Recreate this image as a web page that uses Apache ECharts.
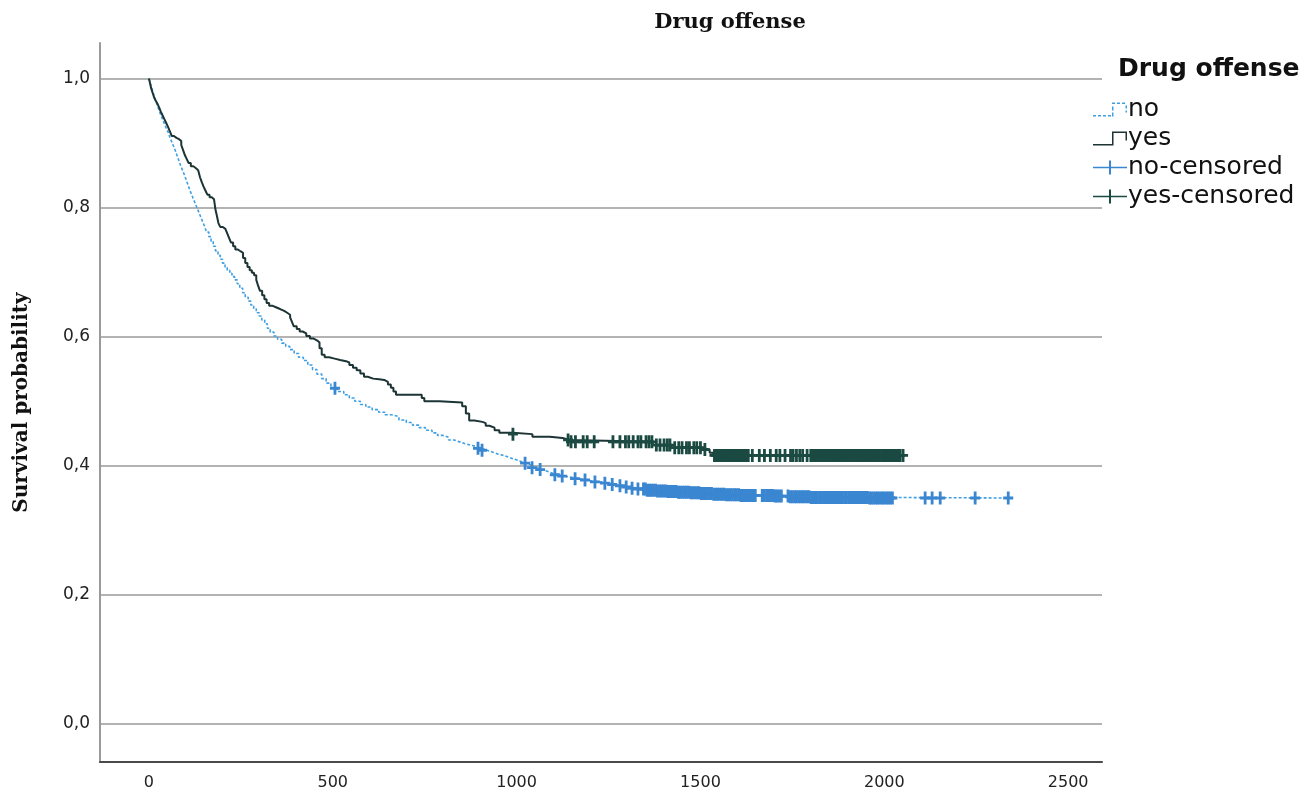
<!DOCTYPE html>
<html><head><meta charset="utf-8">
<script src="https://cdn.jsdelivr.net/npm/echarts@6/dist/echarts.min.js"></script>
<style>html,body{margin:0;padding:0;background:#fff}#c{width:1312px;height:791px}</style>
</head><body><div id="c"></div>
<script>
// ---- data ----
const xTicks = [0, 500, 1000, 1500, 2000, 2500];
const yTicks = [0, 0.2, 0.4, 0.6, 0.8, 1.0];

// "no" group: event times (days) and survival after each step
const noTimes = [0,4,8,12,16,20,24,28,32,37,42,47,52,57,62,67,72,77,82,87,92,97,102,107,112,117,122,127,132,137,142,147,152,157,163,169,175,181,188,194,200,207,213,220,226,233,240,247,255,262,270,277,285,292,300,307,315,322,330,340,350,361,372,383,395,407,420,432,445,457,470,482,495,512,530,545,560,575,590,607,625,642,660,680,700,717,735,752,770,785,800,815,830,845,860,875,890,905,920,935,950,965,980,995,1010,1025,1040,1055,1070,1085,1100,1115,1130,1150,1170,1190,1210,1230,1250,1270,1290,1310,1330,1355,1380,1410,1440,1470,1500,1535,1570,1610,1650,1700,1740,1800,1850,1960,2342];
const noSurv  = [1.0,0.992,0.985,0.977,0.970,0.963,0.957,0.950,0.944,0.937,0.930,0.923,0.917,0.909,0.902,0.895,0.888,0.880,0.872,0.864,0.857,0.850,0.842,0.834,0.826,0.819,0.812,0.805,0.798,0.791,0.784,0.777,0.770,0.762,0.755,0.748,0.740,0.733,0.726,0.720,0.714,0.708,0.703,0.698,0.693,0.688,0.682,0.675,0.668,0.661,0.655,0.649,0.643,0.637,0.632,0.626,0.620,0.613,0.607,0.601,0.596,0.590,0.585,0.580,0.574,0.568,0.563,0.556,0.549,0.542,0.535,0.528,0.520,0.515,0.510,0.505,0.500,0.495,0.491,0.487,0.483,0.479,0.476,0.471,0.467,0.463,0.459,0.455,0.451,0.447,0.444,0.440,0.437,0.434,0.432,0.430,0.427,0.424,0.421,0.418,0.416,0.413,0.410,0.407,0.404,0.401,0.397,0.394,0.391,0.388,0.386,0.384,0.382,0.380,0.378,0.376,0.375,0.373,0.371,0.369,0.367,0.365,0.364,0.362,0.361,0.360,0.359,0.358,0.357,0.356,0.355,0.354,0.354,0.353,0.352,0.351,0.351,0.350,0.350];

// "yes" group
const yesTimes = [0,3,6,10,14,19,24,28,32,37,42,47,52,57,62,68,75,82,88,93,98,103,108,114,121,128,134,139,144,149,154,159,165,171,177,181,185,189,194,201,208,213,218,223,229,235,242,250,256,262,268,274,280,286,292,297,302,308,314,320,327,335,344,352,360,368,376,384,389,394,402,410,418,428,438,448,458,464,470,478,490,505,520,536,545,555,565,575,585,595,610,626,640,650,658,665,672,735,742,749,790,852,862,871,885,907,916,926,940,953,990,1043,1090,1125,1144,1370,1420,1506,1525,1535,2055];
const yesSurv  = [1.0,0.993,0.985,0.978,0.971,0.965,0.960,0.955,0.949,0.943,0.937,0.931,0.925,0.918,0.911,0.908,0.906,0.903,0.897,0.889,0.881,0.875,0.869,0.864,0.861,0.858,0.855,0.847,0.839,0.832,0.826,0.820,0.816,0.813,0.810,0.797,0.787,0.776,0.770,0.767,0.764,0.760,0.753,0.746,0.740,0.735,0.732,0.730,0.722,0.714,0.708,0.703,0.699,0.695,0.688,0.679,0.671,0.664,0.658,0.652,0.648,0.646,0.644,0.642,0.640,0.637,0.634,0.630,0.623,0.616,0.612,0.608,0.605,0.601,0.597,0.594,0.591,0.582,0.572,0.568,0.566,0.564,0.562,0.560,0.556,0.552,0.548,0.543,0.538,0.535,0.534,0.533,0.530,0.526,0.521,0.515,0.510,0.510,0.505,0.500,0.498,0.492,0.481,0.470,0.468,0.466,0.462,0.459,0.455,0.451,0.449,0.445,0.443,0.440,0.437,0.432,0.428,0.425,0.420,0.416,0.416];

// censored observation times
const noCensored = [506,895,906,1023,1042,1064,1104,1124,1159,1186,1213,1240,1260,1281,1298,1314,1330,
  1345,1350,1355,1361,1366,1372,1378,1383,1389,1395,1400,1406,1411,1417,1423,1428,1434,1440,1445,1451,1457,1462,1468,1474,1479,1485,1491,1496,1502,1508,1513,1519,1525,1530,1536,1542,1547,1553,1559,1564,1570,1576,1581,1587,1593,1598,1604,1610,1615,1621,1627,1632,1638,1644,1649,
  1668,1674,1680,1686,1691,1697,1703,1708,1714,1720,1738,1744,1750,1756,1761,1767,1773,1778,1784,1790,1795,1801,1807,1812,1818,1824,1829,1835,1841,1846,1852,1858,1863,1869,1875,1880,1886,1892,1897,1903,1909,1914,1920,1926,1931,1937,1943,1948,1954,1960,1965,1971,1977,1982,1988,1994,1999,2005,2011,2016,2022,
  2111,2130,2152,2247,2337];
const yesCensored = [990,1140,1148,1160,1181,1192,1211,1262,1281,1296,1305,1317,1330,1338,1352,1360,1368,1380,1390,1401,1410,1417,1430,1441,1450,1462,1470,1482,1490,1500,1512,
  1538,1542,1547,1552,1556,1561,1566,1570,1575,1580,1585,1590,1594,1599,1604,1609,1614,1618,1623,1630,1641,1660,1674,1690,1706,1716,1730,1745,1752,1761,1770,1778,1790,1800,1805,1810,1815,1820,1825,1830,1835,1840,1845,1850,1855,1861,1866,1871,1876,1881,1886,1891,1896,1901,1906,1911,1916,1921,1926,1931,1937,1942,1947,1952,1957,1962,1967,1972,1977,1982,1987,1993,1998,2003,2008,2013,2018,2023,2028,2033,2038,2043,2051];

// ---- build ----
function pairs(ts, ss) { return ts.map((t, i) => [t, ss[i]]); }
function survAt(ts, ss, t) { let s = ss[0]; for (let i = 0; i < ts.length; i++) { if (ts[i] <= t) s = ss[i]; } return s; }
const plus = 'path://M36,0 H64 V39 H100 V61 H64 V100 H36 V61 H0 V39 H36 Z';
const iconYes = 'path://M0,12.5 H19 V0 H34 V9 H32.5 V1.5 H20.5 V14 H0 Z';
const iconNo = 'path://M0,12.5h3v1.5h-3z M5,12.5h3v1.5h-3z M10,12.5h3v1.5h-3z M15,12.5h3v1.5h-3z M19,10h1.5v4h-1.5z M19,4h1.5v4h-1.5z M19,0h3v1.5h-3z M24,0h3v1.5h-3z M29,0h3v1.5h-3z M32.5,3h1.5v3h-1.5z M32.5,8h1.5v2h-1.5z';
const iconCens = 'path://M0,6.25 H16 V0 H18 V6.25 H34 V7.75 H18 V14 H16 V7.75 H0 Z';

const cNo = '#3f9fe3', cNoC = '#3a86d1', cYes = '#1c3434', cYesC = '#1b4a42';

const chart = echarts.init(document.getElementById('c'), null, {renderer: 'canvas'});
chart.setOption({
  animation: false,
  backgroundColor: '#ffffff',
  title: [
    { text: 'Drug offense', left: 725, top: 7, textAlign: 'center',
      textStyle: { fontFamily: 'DejaVu Serif', fontWeight: 'bold', fontSize: 21, color: '#111' } },
    { text: 'Drug offense', left: 1113, top: 52,
      textStyle: { fontFamily: 'DejaVu Sans', fontWeight: 'bold', fontSize: 25, color: '#111' } }
  ],
  legend: {
    orient: 'vertical', left: 1088, top: 92, itemWidth: 34, itemHeight: 14, itemGap: 4,
    textStyle: { fontFamily: 'DejaVu Sans', fontSize: 25, lineHeight: 25, color: '#111', padding: [0,0,0,-4] },
    itemStyle: { borderWidth: 0 },
    data: [
      { name: 'no', icon: iconNo },
      { name: 'yes', icon: iconYes },
      { name: 'no-censored', icon: iconCens },
      { name: 'yes-censored', icon: iconCens }
    ]
  },
  grid: { left: 100, right: 210, top: 43, bottom: 29 },
  xAxis: {
    type: 'value', min: -133, max: 2592,
    axisLine: { show: true, onZero: false, lineStyle: { color: '#4a4a4a', width: 2 } },
    axisTick: { show: false, customValues: xTicks },
    axisLabel: { customValues: xTicks, margin: 13, fontFamily: 'DejaVu Sans', fontSize: 16, color: '#222',
      formatter: v => String(v) },
    splitLine: { show: false }
  },
  yAxis: {
    type: 'value', min: -0.059, max: 1.055,
    name: 'Survival probability', nameLocation: 'middle', nameGap: 68,
    nameTextStyle: { fontFamily: 'DejaVu Serif', fontWeight: 'bold', fontSize: 20, color: '#111' },
    axisLine: { show: true, onZero: false, lineStyle: { color: '#9a9a9a', width: 2 } },
    axisTick: { show: false, customValues: yTicks },
    axisLabel: { customValues: yTicks, margin: 10, fontFamily: 'DejaVu Sans', fontSize: 17, color: '#222',
      formatter: v => v.toFixed(1).replace('.', ',') },
    splitLine: { show: true, lineStyle: { color: '#b3b3b3', width: 2 } }
  },
  series: [
    { name: 'no', type: 'line', step: 'end', showSymbol: false, symbol: 'none', z: 2,
      data: pairs(noTimes, noSurv), itemStyle: { color: cNo },
      lineStyle: { color: cNo, width: 1.6, type: [3, 2] } },
    { name: 'yes', type: 'line', step: 'end', showSymbol: false, symbol: 'none', z: 3,
      data: pairs(yesTimes, yesSurv), itemStyle: { color: cYes },
      lineStyle: { color: cYes, width: 2 } },
    { name: 'no-censored', type: 'scatter', symbol: plus, symbolSize: [10, 13], z: 4,
      data: noCensored.map(t => [t, survAt(noTimes, noSurv, t)]), itemStyle: { color: cNoC, opacity: 1 } },
    { name: 'yes-censored', type: 'scatter', symbol: plus, symbolSize: [10, 13], z: 5,
      data: yesCensored.map(t => [t, survAt(yesTimes, yesSurv, t)]), itemStyle: { color: cYesC, opacity: 1 } }
  ]
});
</script>
</body></html>
